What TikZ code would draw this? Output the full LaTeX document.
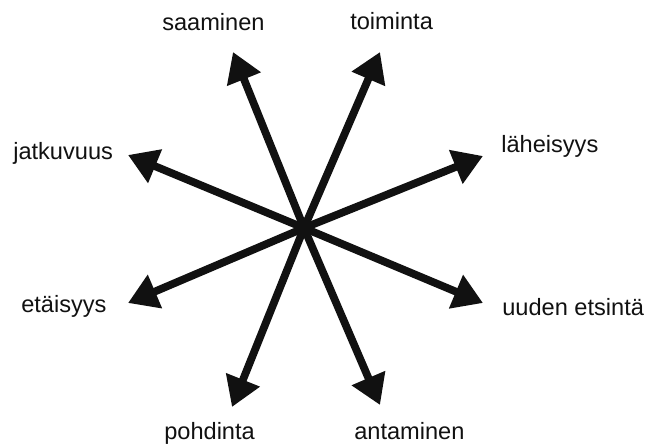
\documentclass[tikz,border=0pt]{standalone}
\usepackage{fontspec}
\setmainfont{Liberation Sans}
\usepackage{xcolor}
\usetikzlibrary{arrows.meta}
\definecolor{ink}{HTML}{111111}
\tikzset{
  spoke/.style={-{Triangle[length=22pt,width=26pt]},line width=5.8pt,
                draw=ink},
  term/.style={anchor=base west,inner sep=0pt,text=ink,
               font=\fontsize{17.7}{21}\selectfont}
}
\begin{document}
\begin{tikzpicture}[x=0.75pt,y=-0.75pt]
    \path[use as bounding box] (0,0) rectangle (648,445);

    \coordinate (hub) at (304,228);
    \coordinate (tsaa) at (233,52);
    \coordinate (ttoi) at (380,52);
    \coordinate (tlah) at (483,156);
    \coordinate (tjat) at (128,155);
    \coordinate (teta) at (128,303);
    \coordinate (tuud) at (483,303);
    \coordinate (tpoh) at (232,407);
    \coordinate (tant) at (380,405);

    \node[term] (saaminen) at (162,31) {saaminen};
    \node[term] (toiminta) at (350,30) {toiminta};
    \node[term] (jatkuvuus) at (13,160) {jatkuvuus};
    \node[term] (laheisyys) at (501,153) {läheisyys};
    \node[term] (etaisyys) at (21,312) {etäisyys};
    \node[term] (etsinta) at (502,315) {uuden etsintä};
    \node[term] (pohdinta) at (164,439) {pohdinta};
    \node[term] (antaminen) at (354,439) {antaminen};

    \draw[spoke] (hub) -- (tsaa);
    \draw[spoke] (hub) -- (ttoi);
    \draw[spoke] (hub) -- (tlah);
    \draw[spoke] (hub) -- (tjat);
    \draw[spoke] (hub) -- (teta);
    \draw[spoke] (hub) -- (tuud);
    \draw[spoke] (hub) -- (tpoh);
    \draw[spoke] (hub) -- (tant);
  \end{tikzpicture}
\end{document}
